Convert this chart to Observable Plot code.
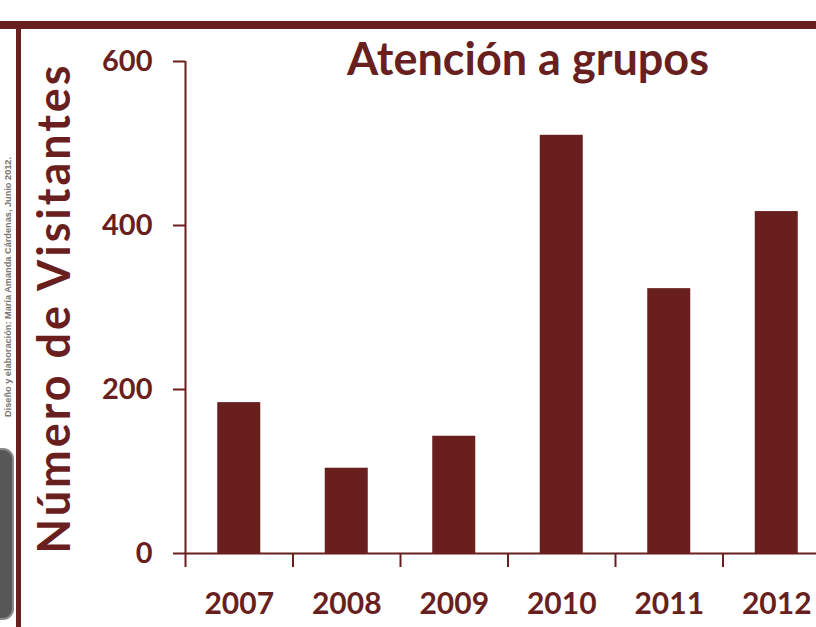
<!DOCTYPE html>
<html>
<head>
<meta charset="utf-8">
<script src="https://cdn.jsdelivr.net/npm/d3@7"></script>
<script src="https://cdn.jsdelivr.net/npm/@observablehq/plot@0.6"></script>
<style>
  html, body { margin: 0; padding: 0; background: #fff; width: 816px; height: 627px; overflow: hidden; }
  #wrap { position: relative; width: 816px; height: 627px; }
  #topband { position: absolute; left: 0; top: 21px; width: 816px; height: 8px; background: #6a1f1f; }
  #vline { position: absolute; left: 16px; top: 21px; width: 5px; height: 606px; background: #6a1f1f; }
  #credit { position: absolute; left: 8px; top: 287px; transform: translate(-50%, -50%) rotate(-90deg);
            white-space: nowrap; font: bold 9.2px "Liberation Sans", sans-serif; color: #777; }
  #graybox { position: absolute; left: -14px; top: 448px; width: 24px; height: 168px; background: #575757;
             border: 2px solid #8a8a8a; border-radius: 11px; }
  #title { position: absolute; left: 528px; top: 36px; transform: translateX(-50%); white-space: nowrap;
           font: bold 45px Lato, sans-serif; color: #6a1f1f; line-height: 1; }
  #chart { position: absolute; left: 0; top: 0; }
</style>
</head>
<body>
<div id="wrap">
  <div id="chart"></div>
  <div id="topband"></div>
  <div id="vline"></div>
  <div id="credit">Diseño y elaboración: María Amanda Cárdenas, Junio 2012.</div>
  <div id="graybox"></div>
  <div id="title">Atención a grupos</div>
</div>
<script>
const years = [2007, 2008, 2009, 2010, 2011, 2012];
const visitors = [184, 104, 143, 510, 323, 417];
const yTicks = [0, 200, 400, 600];
const titleText = "Atención a grupos";
const yLabel = "Número de Visitantes";

const maroon = "#6a1f1f";
const data = years.map((y, i) => ({year: y, value: visitors[i]}));
const boundaries = years.map(y => y - 0.5).concat([years[years.length - 1] + 0.5]);

const chart = Plot.plot({
  width: 816,
  height: 627,
  marginLeft: 185,
  marginTop: 61,
  marginBottom: 74,
  marginRight: 0,
  style: {fontFamily: "Lato, sans-serif", fontWeight: "bold", color: maroon, background: "transparent", overflow: "visible"},
  x: {type: "linear", domain: [years[0] - 0.5, years[years.length - 1] + 0.5], range: [185, 830]},
  y: {domain: [0, 600], range: [553, 61]},
  marks: [
    Plot.rectY(data, {x1: d => d.year - 0.2, x2: d => d.year + 0.2, y: "value", fill: maroon}),
    Plot.ruleY([0], {x1: boundaries[0], x2: boundaries[boundaries.length - 1] + 0.5, stroke: maroon, strokeWidth: 2}),
    Plot.ruleX([boundaries[0]], {y1: 0, y2: 600, stroke: maroon, strokeWidth: 2}),
    Plot.axisY({ticks: yTicks, tickSize: 12, tickPadding: 21, fontSize: 29, stroke: maroon, strokeWidth: 2,
                fill: maroon, label: yLabel, labelAnchor: "center", labelArrow: "none", labelOffset: 147}),
    Plot.axisX({ticks: boundaries, tickSize: 14, tickFormat: () => "", stroke: maroon, strokeWidth: 2}),
    Plot.axisX({ticks: years, tickSize: 0, tickPadding: 39, tickFormat: d => String(d), fontSize: 30, fill: maroon})
  ]
});
chart.querySelectorAll("g[aria-label='y-axis label'] text").forEach(t => {
  t.setAttribute("font-size", "45");
  t.setAttribute("textLength", "488");
  t.setAttribute("lengthAdjust", "spacing");
  const tr = t.getAttribute("transform") || "";
  t.setAttribute("transform", tr.replace(/translate\(([^,]+),([^)]+)\)/, (m, a, b) => `translate(${a},${+b + 2})`));
});
document.getElementById("chart").appendChild(chart);
</script>
</body>
</html>
